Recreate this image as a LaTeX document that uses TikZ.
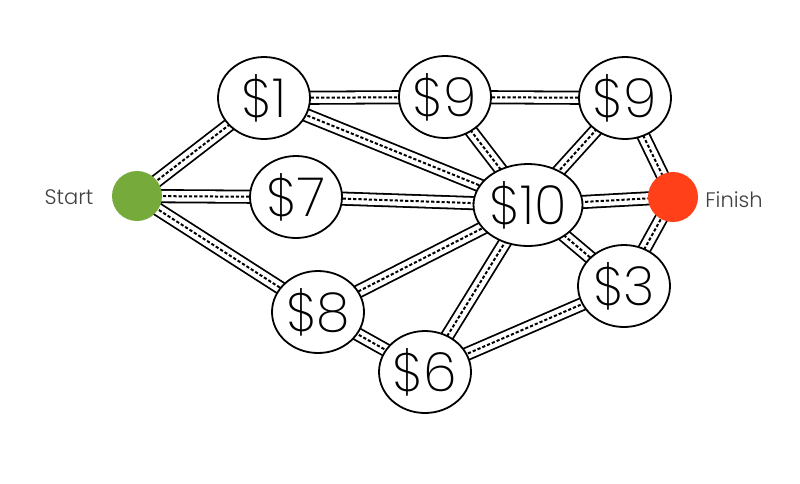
\documentclass[tikz,border=0pt]{standalone}
\usepackage{fontspec}
\newfontfamily\pricefont{Poppins ExtraLight}
\newfontfamily\signfont{Poppins Light}
\usetikzlibrary{shapes.geometric,backgrounds}
\definecolor{startgreen}{HTML}{76AA3A}
\definecolor{finishred}{HTML}{FF4019}
\begin{document}
\begin{tikzpicture}[x=1pt,y=-1pt,
    town/.style={ellipse,draw,line width=1.8pt,fill=white,inner sep=0pt,
      minimum width=92pt,minimum height=82pt,font=\pricefont\fontsize{54}{54}\selectfont},
    endpoint/.style={circle,inner sep=0pt,minimum size=50pt},
    sign/.style={font=\signfont\fontsize{21}{21}\selectfont,text=black!75},
    road/.style={line width=1.8pt,double=white,double distance=10.5pt},
    lane/.style={line width=2pt,dash pattern=on 3.2pt off 2pt}]
  \useasboundingbox (0,0) rectangle (800,483);
  % the two ends of the trip
  \node[endpoint,fill=startgreen] (start) at (137,196) {};
  \node[endpoint,fill=finishred] (finish) at (673,197) {};
  \node[sign] (startlbl) at (69,197) {Start};
  \node[sign] (finishlbl) at (734,200) {Finish};
  % the towns with their toll
  \node[town] (t1) at (264,98) {\$1};
  \node[town] (t9a) at (445,97) {\$9};
  \node[town] (t9b) at (625,98) {\$9};
  \node[town] (t7) at (296,197) {\$7};
  \node[town] (t10) at (528,205) {\$10};
  \node[town] (t8) at (318,312) {\$8};
  \node[town] (t6) at (425,372) {\$6};
  \node[town] (t3) at (624,286) {\$3};
  % roads run under the towns
  \begin{scope}[on background layer]
    \foreach \a/\b in {start/t1,start/t7,start/t8,t1/t9a,t1/t10,t9a/t9b,t9a/t10,
        t9b/t10,t9b/finish,t7/t10,t10/finish,t10/t8,t10/t6,t10/t3,t3/finish,
        t8/t6,t6/t3} {
      \draw[road] (\a.center) -- (\b.center);
      \draw[lane] (\a.center) -- (\b.center);
    }
  \end{scope}
\end{tikzpicture}
\end{document}
